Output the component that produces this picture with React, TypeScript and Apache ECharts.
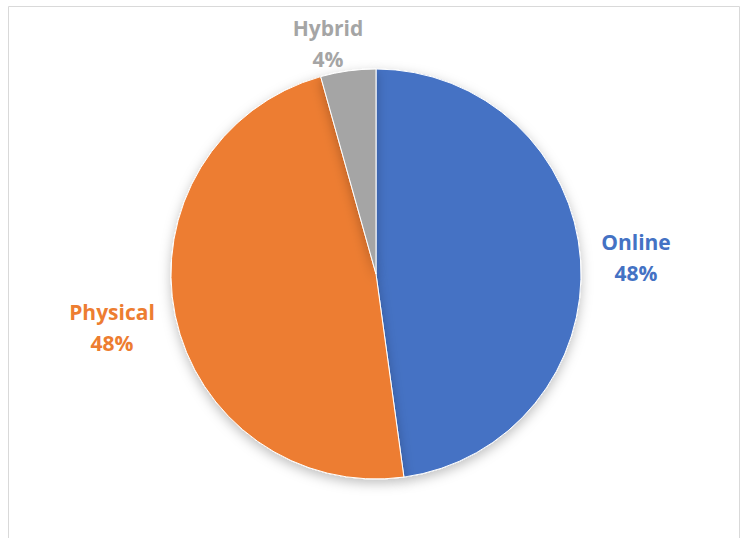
import React, { useEffect, useRef } from "react";
import * as echarts from "echarts";

const categories = ["Online", "Physical", "Hybrid"];
const values = [22, 22, 2];
const colors = ["#4472C4", "#ED7D31", "#A5A5A5"];
const labelPos = [
  [636, 257],
  [112, 327],
  [328, 43],
];

export default function App() {
  const ref = useRef<HTMLDivElement>(null);
  useEffect(() => {
    const chart = echarts.init(ref.current!, null, { renderer: "svg" });
    chart.setOption({
      animation: false,
      backgroundColor: "#ffffff",
      graphic: [
        {
          type: "rect",
          shape: { x: 8.5, y: 6.5, width: 731, height: 560 },
          style: { fill: "none", stroke: "#d9d9d9", lineWidth: 1 },
          silent: true,
        },
      ],
      series: [
        {
          type: "pie",
          center: [376, 274],
          radius: 205,
          startAngle: 90,
          clockwise: true,
          data: categories.map((c, i) => ({
            name: c,
            value: values[i],
            itemStyle: { color: colors[i] },
            label: { color: colors[i] },
          })),
          itemStyle: {
            borderColor: "#ffffff",
            borderWidth: 1,
            shadowBlur: 12,
            shadowOffsetY: 4,
            shadowColor: "rgba(0,0,0,0.25)",
          },
          label: {
            show: true,
            position: "outside",
            formatter: (p: any) => `${p.name}\n${Math.round(p.percent)}%`,
            fontFamily: "Open Sans",
            fontWeight: "bold",
            fontSize: 21,
            lineHeight: 31,
            align: "center",
          },
          labelLine: { show: false },
          labelLayout: (p: any) => ({
            x: labelPos[p.dataIndex][0],
            y: labelPos[p.dataIndex][1],
            align: "center",
            verticalAlign: "middle",
          }),
        },
      ],
    });
    return () => chart.dispose();
  }, []);
  return (
    <div
      ref={ref}
      style={{ position: "fixed", left: 0, top: 0, width: 741, height: 538 }}
    />
  );
}
